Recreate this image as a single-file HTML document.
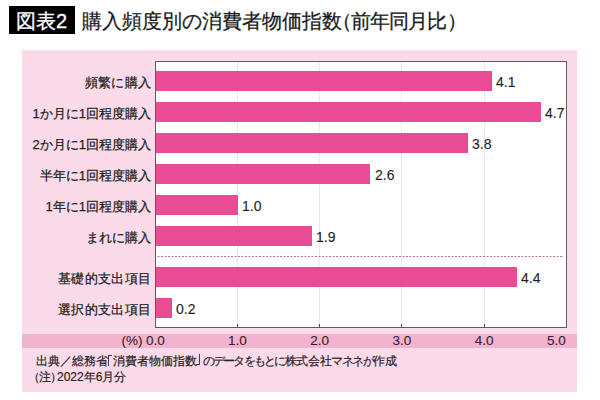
<!DOCTYPE html>
<html lang="ja"><head><meta charset="utf-8">
<style>
html,body{margin:0;padding:0;}
body{width:600px;height:400px;overflow:hidden;background:#fff;position:relative;font-family:"Liberation Sans",sans-serif;color:#2a2a2a;}
.a{position:absolute;}
#tbox{left:9px;top:6px;width:66px;height:28px;background:#000;}
#tbox span{position:absolute;left:7px;top:3px;color:#fff;font-size:20px;line-height:24px;white-space:nowrap;-webkit-text-stroke:0.3px #fff;}
.pl{display:inline-block;width:9px;text-indent:-10px;overflow:hidden;vertical-align:top;}
.pr{display:inline-block;width:10px;text-indent:1px;overflow:hidden;vertical-align:top;}
#title{left:82px;top:9px;font-size:20px;line-height:24px;white-space:nowrap;color:#1a1a1a;-webkit-text-stroke:0.25px #1a1a1a;}
#panel{left:22px;top:50px;width:555px;height:342px;background:#fbdbe9;}
#plot{left:155px;top:61px;width:410px;height:265px;border:1px solid #66575f;background:#fff;}
.grid{top:62px;width:1px;height:265px;background:#e8e8ea;}
.bar{left:156px;height:20px;background:#e94c95;}
.val{font-size:14px;line-height:16px;white-space:nowrap;color:#1e1e1e;-webkit-text-stroke:0.1px #1e1e1e;}
.lab{right:449px;font-size:13px;line-height:16px;white-space:nowrap;text-align:right;color:#231f20;-webkit-text-stroke:0.25px #231f20;}
.tick2{top:324px;width:1px;height:3px;background:#5a4c55;}
#band{left:22px;top:334px;width:555px;height:14px;background:#f2b3cf;}
.tick{top:333px;font-size:13.5px;line-height:15px;white-space:nowrap;color:#3a1d2e;-webkit-text-stroke:0.1px #3a1d2e;}
.foot{left:36px;font-size:12px;line-height:14px;white-space:nowrap;color:#2b2327;-webkit-text-stroke:0.2px #2b2327;}
.ib{display:inline-block;}
.brk{width:2.6px;height:10px;}
</style></head><body>
<div id="tbox" class="a"><span>図表2</span></div>
<div id="title" class="a">購入頻度別の消費者物価指数<span class="pl">（</span><span style="letter-spacing:-1px">前年同月比</span><span class="pr">）</span></div>
<div id="panel" class="a"></div>
<div id="plot" class="a"></div>
<div class="a grid" style="left:237px"></div>
<div class="a grid" style="left:319px"></div>
<div class="a grid" style="left:401px"></div>
<div class="a grid" style="left:484px"></div>

<div class="a bar" style="top:71px;width:336px"></div>
<div class="a bar" style="top:102px;width:385px"></div>
<div class="a bar" style="top:133px;width:312px"></div>
<div class="a bar" style="top:164px;width:214px"></div>
<div class="a bar" style="top:195px;width:82px"></div>
<div class="a bar" style="top:226px;width:156px"></div>
<div class="a bar" style="top:267px;width:361px"></div>
<div class="a bar" style="top:298px;width:16px"></div>
<svg class="a" style="left:156px;top:256px" width="410" height="1"><line x1="1.5" y1="0.5" x2="408" y2="0.5" stroke="#b07896" stroke-width="1" stroke-dasharray="2 1.5"/></svg>
<div class="a tick2" style="left:237px"></div><div class="a tick2" style="left:319px"></div><div class="a tick2" style="left:401px"></div><div class="a tick2" style="left:484px"></div>

<div class="a val" style="left:496px;top:74px">4.1</div>
<div class="a val" style="left:545px;top:105px">4.7</div>
<div class="a val" style="left:472px;top:136px">3.8</div>
<div class="a val" style="left:375px;top:167px">2.6</div>
<div class="a val" style="left:242px;top:198px">1.0</div>
<div class="a val" style="left:316px;top:229px">1.9</div>
<div class="a val" style="left:521px;top:270px">4.4</div>
<div class="a val" style="left:176px;top:301px">0.2</div>

<div class="a lab" style="top:75px;letter-spacing:0.35px;right:448.65px">頻繁に購入</div>
<div class="a lab" style="top:106px">1か月に1回程度購入</div>
<div class="a lab" style="top:137px">2か月に1回程度購入</div>
<div class="a lab" style="top:168px">半年に1回程度購入</div>
<div class="a lab" style="top:199px">1年に1回程度購入</div>
<div class="a lab" style="top:230px">まれに購入</div>
<div class="a lab" style="top:271px;letter-spacing:0.35px;right:448.65px">基礎的支出項目</div>
<div class="a lab" style="top:302px;letter-spacing:0.35px;right:448.65px">選択的支出項目</div>

<div id="band" class="a"></div>
<div class="a tick" style="left:121.5px">(%)</div>
<div class="a tick" style="left:145.9px">0.0</div>
<div class="a tick" style="left:228.1px">1.0</div>
<div class="a tick" style="left:310.3px">2.0</div>
<div class="a tick" style="left:392.5px">3.0</div>
<div class="a tick" style="left:474.7px">4.0</div>
<div class="a tick" style="left:547px">5.0</div>

<div class="a foot" style="top:354px">出典／総務省<span class="ib" style="width:5px">&#8203;</span>消費者物価指数<span class="ib" style="width:5.5px">&#8203;</span><span style="letter-spacing:-1.75px">のデータをもとに</span><span style="letter-spacing:-0.3px">株式会社</span><span style="letter-spacing:-1.6px">マネネが</span>作成</div>
<div class="a brk" style="left:108px;top:355px;border-left:1.2px solid #4a3c44;border-top:1.2px solid #4a3c44;"></div>
<div class="a brk" style="left:196px;top:354px;border-right:1.2px solid #4a3c44;border-bottom:1.2px solid #4a3c44;"></div>
<div class="a foot" style="top:370px"><span class="ib" style="width:2.5px;text-indent:-8px">（</span>注<span class="ib" style="width:6.5px;text-indent:-1px">）</span>2022年6月分</div>
</body></html>
